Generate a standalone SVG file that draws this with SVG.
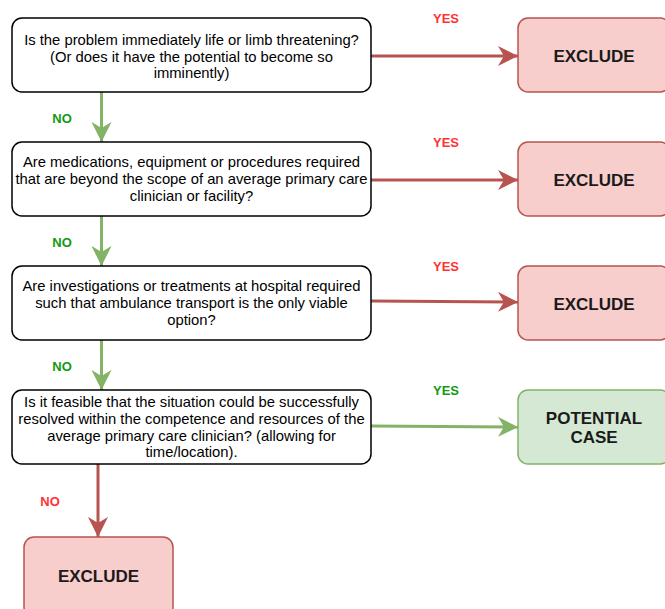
<svg xmlns="http://www.w3.org/2000/svg" width="665" height="609" viewBox="0 0 665 609">
<style>
.q{fill:#fff;stroke:#000;stroke-width:1.5}
.r{fill:#f8cecc;stroke:#b85450;stroke-width:1.5}
.g{fill:#d5e8d4;stroke:#82b366;stroke-width:1.5}
.t{font-family:"Liberation Sans",Arial,sans-serif;font-size:14.8px;fill:#000;text-anchor:middle}
.b{font-family:"Liberation Sans",Arial,sans-serif;font-size:17px;font-weight:bold;fill:#1a1a1a;text-anchor:middle}
.lr{font-family:"Liberation Sans",Arial,sans-serif;font-size:13px;font-weight:bold;fill:#ff3333;text-anchor:middle}
.lg{font-family:"Liberation Sans",Arial,sans-serif;font-size:13px;font-weight:bold;fill:#139a13;text-anchor:middle}
.cr{stroke:#b85450;stroke-width:3;fill:none}
.cg{stroke:#82b366;stroke-width:3;fill:none}
</style>
<defs>
<marker id="ar" viewBox="0 0 10 10" refX="10" refY="5" markerWidth="6.7" markerHeight="6.7" markerUnits="strokeWidth" orient="auto"><path d="M0,0 L10,5 L0,10 L3,5 Z" fill="#b85450"/></marker>
<marker id="ag" viewBox="0 0 10 10" refX="10" refY="5" markerWidth="6.7" markerHeight="6.7" markerUnits="strokeWidth" orient="auto"><path d="M0,0 L10,5 L0,10 L3,5 Z" fill="#82b366"/></marker>
</defs>
<g id="connectors">
<path class="cr" d="M371,56 L518,56" marker-end="url(#ar)"/>
<path class="cr" d="M371,180 L518,180" marker-end="url(#ar)"/>
<path class="cr" d="M371,301 L518,302" marker-end="url(#ar)"/>
<path class="cg" d="M371,426 L518,427" marker-end="url(#ag)"/>
<path class="cg" d="M101.5,92 L101.5,142" marker-end="url(#ag)"/>
<path class="cg" d="M101.5,216 L101.5,266" marker-end="url(#ag)"/>
<path class="cg" d="M101.5,340 L101.5,390" marker-end="url(#ag)"/>
<path class="cr" d="M98,464 L98,537" marker-end="url(#ar)"/>
<text class="lr" x="446" y="23">YES</text>
<text class="lr" x="446" y="147">YES</text>
<text class="lr" x="446" y="271">YES</text>
<text class="lg" x="446" y="395">YES</text>
<text class="lg" x="62" y="123">NO</text>
<text class="lg" x="62" y="247">NO</text>
<text class="lg" x="62" y="371">NO</text>
<text class="lr" x="50" y="506">NO</text>
</g>
<g id="q1">
<rect class="q" x="12" y="18" width="359" height="74" rx="10"/>
<text class="t" x="191.5" y="45">Is the problem immediately life or limb threatening?</text>
<text class="t" x="191.5" y="62">(Or does it have the potential to become so</text>
<text class="t" x="191.5" y="78">imminently)</text>
</g>
<g id="q2">
<rect class="q" x="12" y="142" width="359" height="74" rx="10"/>
<text class="t" x="191.5" y="167">Are medications, equipment or procedures required</text>
<text class="t" x="191.5" y="184">that are beyond the scope of an average primary care</text>
<text class="t" x="191.5" y="201">clinician or facility?</text>
</g>
<g id="q3">
<rect class="q" x="12" y="266" width="359" height="74" rx="10"/>
<text class="t" x="191.5" y="291">Are investigations or treatments at hospital required</text>
<text class="t" x="191.5" y="308">such that ambulance transport is the only viable</text>
<text class="t" x="191.5" y="325">option?</text>
</g>
<g id="q4">
<rect class="q" x="12" y="390" width="359" height="74" rx="10"/>
<text class="t" x="191.5" y="407">Is it feasible that the situation could be successfully</text>
<text class="t" x="191.5" y="424">resolved within the competence and resources of the</text>
<text class="t" x="191.5" y="441">average primary care clinician? (allowing for</text>
<text class="t" x="191.5" y="457">time/location).</text>
</g>
<g id="ex1">
<rect class="r" x="518" y="18" width="152" height="74" rx="10"/>
<text class="b" x="594" y="62">EXCLUDE</text>
</g>
<g id="ex2">
<rect class="r" x="518" y="142" width="152" height="74" rx="10"/>
<text class="b" x="594" y="186">EXCLUDE</text>
</g>
<g id="ex3">
<rect class="r" x="518" y="266" width="152" height="74" rx="10"/>
<text class="b" x="594" y="310">EXCLUDE</text>
</g>
<g id="pc">
<rect class="g" x="518" y="390" width="152" height="74" rx="10"/>
<text class="b" x="594" y="424">POTENTIAL</text>
<text class="b" x="594" y="443">CASE</text>
</g>
<g id="ex4">
<rect class="r" x="24" y="537" width="149" height="80" rx="10"/>
<text class="b" x="98.5" y="582">EXCLUDE</text>
</g>
</svg>
